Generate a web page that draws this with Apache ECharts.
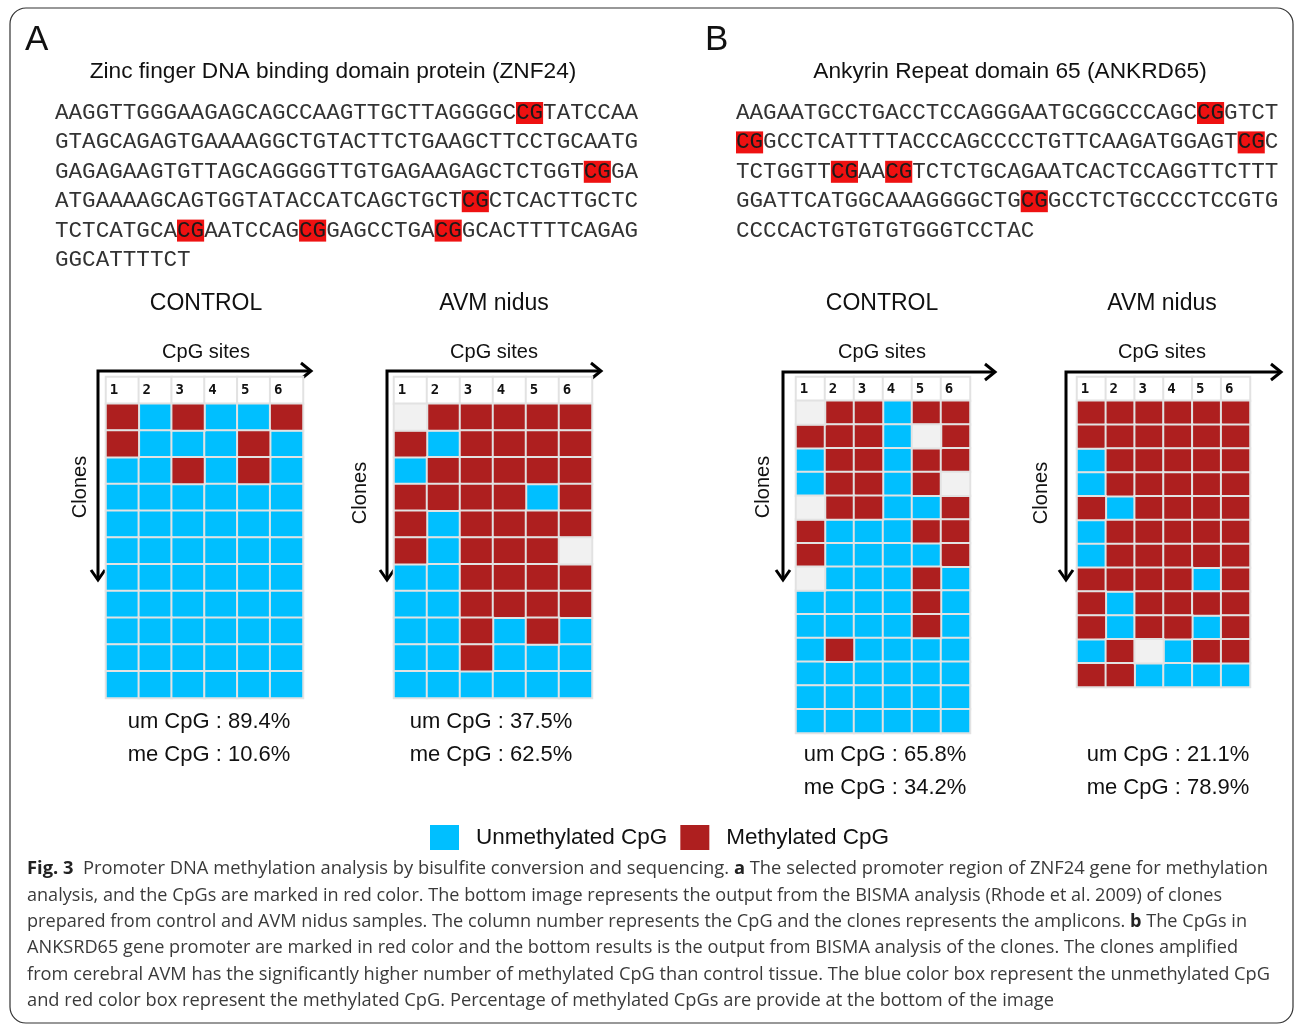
<!DOCTYPE html>
<html>
<head>
<meta charset="utf-8">
<script src="https://cdn.jsdelivr.net/npm/echarts@6/dist/echarts.min.js"></script>
<style>
html, body { margin: 0; padding: 0; background: #fff; }
#chart { width: 1295px; height: 1024px; }
</style>
</head>
<body>
<div id="chart"></div>
<script>
// CpG site numbers (columns of every grid)
var cpgSites = ['1', '2', '3', '4', '5', '6'];

// clones x CpG sites: 1 = methylated, 0 = unmethylated, -1 = no call
var znf24Control = [
    [1, 0, 1, 0, 0, 1],
    [1, 0, 0, 0, 1, 0],
    [0, 0, 1, 0, 1, 0],
    [0, 0, 0, 0, 0, 0],
    [0, 0, 0, 0, 0, 0],
    [0, 0, 0, 0, 0, 0],
    [0, 0, 0, 0, 0, 0],
    [0, 0, 0, 0, 0, 0],
    [0, 0, 0, 0, 0, 0],
    [0, 0, 0, 0, 0, 0],
    [0, 0, 0, 0, 0, 0]
];
var znf24Avm = [
    [-1, 1, 1, 1, 1, 1],
    [1, 0, 1, 1, 1, 1],
    [0, 1, 1, 1, 1, 1],
    [1, 1, 1, 1, 0, 1],
    [1, 0, 1, 1, 1, 1],
    [1, 0, 1, 1, 1, -1],
    [0, 0, 1, 1, 1, 1],
    [0, 0, 1, 1, 1, 1],
    [0, 0, 1, 0, 1, 0],
    [0, 0, 1, 0, 0, 0],
    [0, 0, 0, 0, 0, 0]
];
var ankrd65Control = [
    [-1, 1, 1, 0, 1, 1],
    [1, 1, 1, 0, -1, 1],
    [0, 1, 1, 0, 1, 1],
    [0, 1, 1, 0, 1, -1],
    [-1, 1, 1, 0, 0, 1],
    [1, 0, 0, 0, 1, 1],
    [1, 0, 0, 0, 0, 1],
    [-1, 0, 0, 0, 1, 0],
    [0, 0, 0, 0, 1, 0],
    [0, 0, 0, 0, 1, 0],
    [0, 1, 0, 0, 0, 0],
    [0, 0, 0, 0, 0, 0],
    [0, 0, 0, 0, 0, 0],
    [0, 0, 0, 0, 0, 0]
];
var ankrd65Avm = [
    [1, 1, 1, 1, 1, 1],
    [1, 1, 1, 1, 1, 1],
    [0, 1, 1, 1, 1, 1],
    [0, 1, 1, 1, 1, 1],
    [1, 0, 1, 1, 1, 1],
    [0, 1, 1, 1, 1, 1],
    [0, 1, 1, 1, 1, 1],
    [1, 1, 1, 1, 0, 1],
    [1, 0, 1, 1, 1, 1],
    [1, 0, 1, 1, 0, 1],
    [0, 1, -1, 0, 1, 1],
    [1, 1, 0, 0, 0, 0]
];

var panelNames = ['CONTROL', 'AVM nidus', 'CONTROL', 'AVM nidus'];
var umCpg = ['89.4%', '37.5%', '65.8%', '21.1%'];
var meCpg = ['10.6%', '62.5%', '34.2%', '78.9%'];

var geneTitles = ['Zinc finger DNA binding domain protein (ZNF24)', 'Ankyrin Repeat domain 65 (ANKRD65)'];

// promoter sequences, [CG] = highlighted CpG
var znf24Seq = [
    'AAGGTTGGGAAGAGCAGCCAAGTTGCTTAGGGGC[CG]TATCCAA',
    'GTAGCAGAGTGAAAAGGCTGTACTTCTGAAGCTTCCTGCAATG',
    'GAGAGAAGTGTTAGCAGGGGTTGTGAGAAGAGCTCTGGT[CG]GA',
    'ATGAAAAGCAGTGGTATACCATCAGCTGCT[CG]CTCACTTGCTC',
    'TCTCATGCA[CG]AATCCAG[CG]GAGCCTGA[CG]GCACTTTTCAGAG',
    'GGCATTTTCT'
];
var ankrd65Seq = [
    'AAGAATGCCTGACCTCCAGGGAATGCGGCCCAGC[CG]GTCT',
    '[CG]GCCTCATTTTACCCAGCCCCTGTTCAAGATGGAGT[CG]C',
    'TCTGGTT[CG]AA[CG]TCTCTGCAGAATCACTCCAGGTTCTTT',
    'GGATTCATGGCAAAGGGGCTG[CG]GCCTCTGCCCCTCCGTG',
    'CCCCACTGTGTGTGGGTCCTAC'
];

var captionLines = [
    [['Fig. 3', 1], ['  Promoter DNA methylation analysis by bisulfite conversion and sequencing. ', 0], ['a', 1], [' The selected promoter region of ZNF24 gene for methylation', 0]],
    [['analysis, and the CpGs are marked in red color. The bottom image represents the output from the BISMA analysis (Rhode et al. 2009) of clones', 0]],
    [['prepared from control and AVM nidus samples. The column number represents the CpG and the clones represents the amplicons. ', 0], ['b', 1], [' The CpGs in', 0]],
    [['ANKSRD65 gene promoter are marked in red color and the bottom results is the output from BISMA analysis of the clones. The clones amplified', 0]],
    [['from cerebral AVM has the significantly higher number of methylated CpG than control tissue. The blue color box represent the unmethylated CpG', 0]],
    [['and red color box represent the methylated CpG. Percentage of methylated CpGs are provide at the bottom of the image', 0]]
];
var captionRight = [1268, 1222, 1247, 1238, 1270, 1054];

var panels = [
    { rows: znf24Control, grid: [106, 377, 197, 321], arrow: [98, 371, 311, 580], clones: [80, 487], cx: 206, pct: [209, 722] },
    { rows: znf24Avm, grid: [394, 377, 198, 321], arrow: [387, 371, 601, 580], clones: [360, 493], cx: 494, pct: [491, 722] },
    { rows: ankrd65Control, grid: [796, 377, 174, 356], arrow: [783, 372, 995, 580], clones: [763, 487], cx: 882, pct: [885, 755] },
    { rows: ankrd65Avm, grid: [1077, 377, 173, 310], arrow: [1066, 372, 1281, 580], clones: [1041, 493], cx: 1162, pct: [1168, 755] }
];

var BLUE = '#00BFFF', RED = '#AE1F1F', GREY = '#F1F1F1';
var SANS = '"Liberation Sans", Arial, sans-serif';
var MONO = '"Liberation Mono", "Courier New", monospace';
var CAP = '"Open Sans", sans-serif';

var grids = [], xAxes = [], yAxes = [], series = [], graphics = [];

function cells(rows, state) {
    var out = [];
    rows.forEach(function (r, i) {
        r.forEach(function (v, j) {
            if (v === state) out.push([j, i + 1, v]);
        });
    });
    return out;
}

var cellStyle = { borderColor: '#E2E2E2', borderWidth: 2 };

panels.forEach(function (p, k) {
    grids.push({ left: p.grid[0], top: p.grid[1], width: p.grid[2], height: p.grid[3] });
    xAxes.push({ type: 'category', gridIndex: k, data: cpgSites, show: false });
    var yCats = ['site'];
    p.rows.forEach(function (r, i) { yCats.push('clone ' + (i + 1)); });
    yAxes.push({ type: 'category', gridIndex: k, data: yCats, inverse: true, show: false });

    // header row with CpG site numbers
    series.push({
        type: 'heatmap', name: 'site', xAxisIndex: k, yAxisIndex: k,
        data: cpgSites.map(function (s, j) { return [j, 0, 0]; }),
        itemStyle: Object.assign({ color: '#fff' }, cellStyle),
        label: {
            show: true, position: 'insideLeft', distance: 5,
            formatter: function (pr) { return cpgSites[pr.data[0]]; },
            fontFamily: '"DejaVu Sans Mono", monospace', fontWeight: 'bold', fontSize: 14, color: '#111'
        },
        emphasis: { disabled: true }, silent: true
    });
    series.push({
        type: 'heatmap', name: 'Unmethylated CpG', xAxisIndex: k, yAxisIndex: k,
        data: cells(p.rows, 0), itemStyle: Object.assign({ color: BLUE }, cellStyle),
        emphasis: { disabled: true }, silent: true
    });
    series.push({
        type: 'heatmap', name: 'Methylated CpG', xAxisIndex: k, yAxisIndex: k,
        data: cells(p.rows, 1), itemStyle: Object.assign({ color: RED }, cellStyle),
        emphasis: { disabled: true }, silent: true
    });
    series.push({
        type: 'heatmap', name: 'no call', xAxisIndex: k, yAxisIndex: k,
        data: cells(p.rows, -1), itemStyle: Object.assign({ color: GREY }, cellStyle),
        emphasis: { disabled: true }, silent: true
    });

    // labels around the grid
    graphics.push({ type: 'text', x: p.cx, y: 304, style: { text: panelNames[k], font: '23px ' + SANS, fill: '#111', align: 'center', verticalAlign: 'middle' } });
    graphics.push({ type: 'text', x: p.cx, y: 352, style: { text: 'CpG sites', font: '20px ' + SANS, fill: '#111', align: 'center', verticalAlign: 'middle' } });
    graphics.push({ type: 'text', x: p.clones[0], y: p.clones[1], rotation: Math.PI / 2, style: { text: 'Clones', font: '20px ' + SANS, fill: '#111', align: 'center', verticalAlign: 'middle' } });
    graphics.push({ type: 'text', x: p.pct[0], y: p.pct[1], style: { text: 'um CpG : ' + umCpg[k], font: '22px ' + SANS, fill: '#111', align: 'center', verticalAlign: 'middle' } });
    graphics.push({ type: 'text', x: p.pct[0], y: p.pct[1] + 33, style: { text: 'me CpG : ' + meCpg[k], font: '22px ' + SANS, fill: '#111', align: 'center', verticalAlign: 'middle' } });

    // arrows
    var a = p.arrow;
    var lineStyle = { stroke: '#000', lineWidth: 3, fill: null, lineJoin: 'miter' };
    graphics.push({ type: 'polyline', shape: { points: [[a[0], a[3]], [a[0], a[1]], [a[2], a[1]]] }, style: lineStyle });
    graphics.push({ type: 'polyline', shape: { points: [[a[2] - 10, a[1] - 8], [a[2], a[1]], [a[2] - 10, a[1] + 8]] }, style: lineStyle });
    graphics.push({ type: 'polyline', shape: { points: [[a[0] - 7, a[3] - 10], [a[0], a[3]], [a[0] + 7, a[3] - 10]] }, style: lineStyle });
});

// frame, panel letters, gene titles
graphics.push({ type: 'rect', shape: { x: 10, y: 8, width: 1283, height: 1015, r: 16 }, style: { fill: null, stroke: '#333', lineWidth: 1.2 }, z: -10 });
graphics.push({ type: 'text', x: 25, y: 40, style: { text: 'A', font: '35px ' + SANS, fill: '#111', verticalAlign: 'middle' } });
graphics.push({ type: 'text', x: 705, y: 40, style: { text: 'B', font: '35px ' + SANS, fill: '#111', verticalAlign: 'middle' } });
graphics.push({ type: 'text', x: 333, y: 72, style: { text: geneTitles[0], font: '22.7px ' + SANS, fill: '#111', align: 'center', verticalAlign: 'middle' } });
graphics.push({ type: 'text', x: 1010, y: 72, style: { text: geneTitles[1], font: '22.7px ' + SANS, fill: '#111', align: 'center', verticalAlign: 'middle' } });

// sequences
function seqLines(lines, x0) {
    lines.forEach(function (line, i) {
        graphics.push({
            type: 'text', x: x0, y: 113 + i * 29.4,
            style: {
                text: line.replace(/\[CG\]/g, '{cg|CG}'),
                fontFamily: MONO, fontSize: 22.6, fill: '#333', lineHeight: 22,
                verticalAlign: 'middle',
                rich: { cg: { fontFamily: MONO, fontSize: 22.6, fill: '#1a1a1a', backgroundColor: '#EE1111', lineHeight: 22, height: 22 } }
            }
        });
    });
}
seqLines(znf24Seq, 55);
seqLines(ankrd65Seq, 736);

// caption, each line stretched to its width in the print
var ctx = document.createElement('canvas').getContext('2d');
captionLines.forEach(function (segs, i) {
    var w = 0, txt = '';
    segs.forEach(function (s) {
        ctx.font = (s[1] ? 'bold ' : '') + '18.5px ' + CAP;
        w += ctx.measureText(s[0]).width;
        txt += s[1] ? '{b|' + s[0] + '}' : s[0];
    });
    graphics.push({
        type: 'text', x: 27, y: 869 + i * 26.4, scaleX: (captionRight[i] - 27) / w,
        style: {
            text: txt, fontFamily: CAP, fontSize: 18.5, fill: '#3a3a3a', verticalAlign: 'middle',
            rich: { b: { fontFamily: CAP, fontSize: 18.5, fontWeight: 'bold', fill: '#222' } }
        }
    });
});

var chart = echarts.init(document.getElementById('chart'));
chart.setOption({
    animation: false,
    backgroundColor: '#fff',
    grid: grids,
    xAxis: xAxes,
    yAxis: yAxes,
    legend: {
        data: ['Unmethylated CpG', 'Methylated CpG'],
        left: 425, top: 820,
        icon: 'rect', itemWidth: 29, itemHeight: 25, itemGap: 13,
        itemStyle: { borderWidth: 0 },
        selectedMode: false,
        textStyle: { fontFamily: SANS, fontSize: 22.5, color: '#111', padding: [0, 0, 0, 12] }
    },
    series: series,
    graphic: graphics
});
</script>
</body>
</html>
